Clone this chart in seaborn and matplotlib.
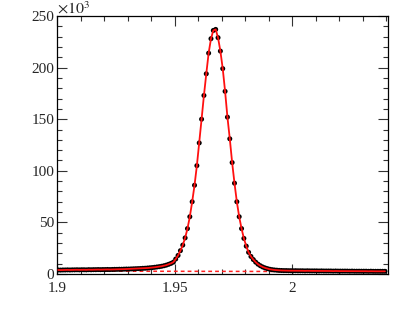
import matplotlib
matplotlib.use('Agg')
import matplotlib.pyplot as plt
import seaborn as sns
import numpy as np
import pandas as pd
from matplotlib.ticker import MultipleLocator

# mass bins: 140 bins of 1 MeV from 1.900 to 2.040 GeV (bin centres)
bin_lo = 1.9
bin_width = 0.001
n_bins = 140

# candidates per bin, in units of 10^3
counts = [
    3.9, 3.8, 3.9, 3.9, 4.0, 3.9, 4.0, 4.0, 4.1, 4.0,
    4.1, 4.1, 4.0, 4.2, 4.1, 4.2, 4.2, 4.3, 4.2, 4.3,
    4.3, 4.4, 4.3, 4.4, 4.5, 4.5, 4.6, 4.6, 4.7, 4.8,
    4.8, 4.9, 5.0, 5.1, 5.2, 5.3, 5.5, 5.6, 5.8, 6.0,
    6.2, 6.5, 6.8, 7.1, 7.5, 8.0, 8.6, 9.4, 10.3, 11.5,
    14.5, 18.0, 22.6, 28.0, 35.0, 44.0, 55.5, 70.0, 86.0, 105.0,
    127.0, 150.0, 173.0, 194.0, 214.0, 228.0, 236.0, 237.0, 229.0, 216.0,
    199.0, 177.0, 152.0, 131.0, 108.0, 88.0, 70.0, 55.5, 44.0, 34.5,
    27.0, 21.0, 17.0, 14.0, 11.5, 9.5, 8.0, 6.8, 5.9, 5.2,
    4.6, 4.2, 3.9, 3.7, 3.5, 3.4, 3.3, 3.3, 3.2, 3.2,
    3.1, 3.2, 3.1, 3.1, 3.1, 3.0, 3.1, 3.0, 3.0, 3.0,
    3.0, 2.9, 3.0, 2.9, 2.9, 2.9, 2.9, 2.8, 2.9, 2.8,
    2.8, 2.8, 2.8, 2.8, 2.7, 2.8, 2.7, 2.7, 2.7, 2.7,
    2.7, 2.7, 2.6, 2.7, 2.6, 2.6, 2.6, 2.6, 2.6, 2.6,
]

# linear background component (10^3)
bkg_x = [1.9, 2.04]
bkg_y = [2.8, 2.3]

x_ticks = [1.9, 1.95, 2.0]
x_tick_labels = ['1.9', '1.95', '2']
y_ticks = [0, 50, 100, 150, 200, 250]

mass = bin_lo + bin_width * (np.arange(n_bins) + 0.5)
df = pd.DataFrame({'mass': mass, 'counts': counts})
bkg = pd.DataFrame({'mass': bkg_x, 'counts': bkg_y})

sns.set_style('ticks')
plt.rcParams['font.family'] = ['Liberation Serif', 'DejaVu Serif']
plt.rcParams['mathtext.fontset'] = 'stix'

fig = plt.figure(figsize=(4.09, 3.27), dpi=100)
ax = fig.add_axes([57 / 409, 53 / 327, 331 / 409, 258 / 327])

# background (dashed), data points, fit curve
sns.lineplot(data=bkg, x='mass', y='counts', ax=ax, color='#ff2020',
             linestyle=(0, (2.5, 2)), linewidth=1.1)
sns.scatterplot(data=df, x='mass', y='counts', ax=ax, color='black',
                s=13, edgecolor='none', zorder=3)
sns.lineplot(data=df, x='mass', y='counts', ax=ax, color='#ff1010',
             linewidth=1.3, zorder=4)

ax.set_xlim(1.9, 2.0408)
ax.set_ylim(0, 250)
ax.set_xlabel('')
ax.set_ylabel('')

ax.set_xticks(x_ticks)
ax.set_xticklabels(x_tick_labels)
ax.set_yticks(y_ticks)
ax.xaxis.set_minor_locator(MultipleLocator(0.01))
ax.yaxis.set_minor_locator(MultipleLocator(10))
ax.tick_params(which='both', direction='in', top=True, right=True,
               width=0.8, color='#333333', labelsize=11)
ax.tick_params(which='major', length=7)
ax.tick_params(which='minor', length=3.5)
ax.tick_params(axis='x', which='major', pad=5.5)
ax.tick_params(axis='y', which='major', pad=2)
for sp in ax.spines.values():
    sp.set_visible(True)
    sp.set_linewidth(0.9)
    sp.set_color('black')

ax.text(0.0, 0.995, r'$\times10^{3}$', transform=ax.transAxes,
        fontsize=11.5, ha='left', va='bottom')

fig.savefig('out.png', dpi=100)
